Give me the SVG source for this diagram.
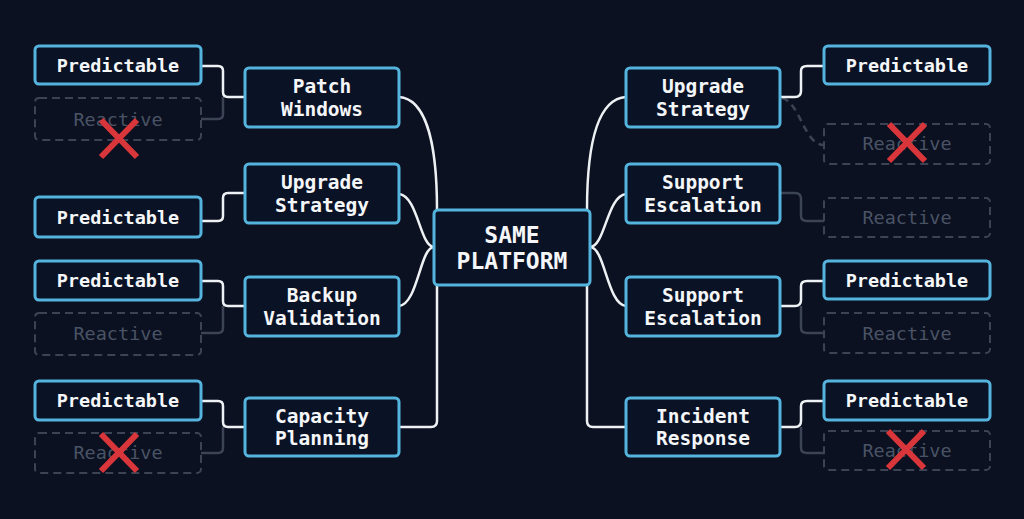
<svg xmlns="http://www.w3.org/2000/svg" width="1024" height="519" viewBox="0 0 1024 519">
<style>
.node rect{fill:#0a1226;stroke:#55b4de;stroke-width:3}
.ghost rect{fill:none;stroke:#3b4354;stroke-width:2;stroke-dasharray:8 5}
.t{font-family:"DejaVu Sans Mono","Liberation Mono",monospace;font-weight:bold;fill:#f4f6f8;text-anchor:middle}
.s{font-size:18.5px}
.m{font-size:19.5px}
.c{font-size:23px}
.g{font-family:"DejaVu Sans Mono","Liberation Mono",monospace;font-size:18.5px;fill:#4a5365;text-anchor:middle}
.w{fill:none;stroke:#eef1f4;stroke-width:2.5}
.d{fill:none;stroke:#3b4354;stroke-width:2.5}
.dd{fill:none;stroke:#3b4354;stroke-width:2.5;stroke-dasharray:7 5}
.x{stroke:#d8363a;stroke-width:6;stroke-linecap:butt}
</style>
<rect width="1024" height="519" fill="#0b1120"/>
<g id="connectors">
<!-- center links -->
<path class="w" d="M399,97 C428,99 437,150 437,210"/>
<path class="w" d="M399,194 C418,196 420,247 434,247"/>
<path class="w" d="M399,306 C418,304 420,247 434,247"/>
<path class="w" d="M399,427 H431 Q437,427 437,421 V285"/>
<path class="w" d="M587,210 C587,150 596,99 626,97"/>
<path class="w" d="M590,247 C605,247 607,196 626,194"/>
<path class="w" d="M590,247 C605,247 607,304 626,306"/>
<path class="w" d="M587,285 V421 Q587,427 593,427 H626"/>
<!-- left leaf links -->
<path class="d" d="M201,119 H218 Q223,119 223,114 V97"/>
<path class="w" d="M201,66 H218 Q223,66 223,71 V92 Q223,97 228,97 H245"/>
<path class="w" d="M201,221 H218 Q223,221 223,216 V198 Q223,193 228,193 H245"/>
<path class="d" d="M201,333 H218 Q223,333 223,328 V306"/>
<path class="w" d="M201,281 H218 Q223,281 223,286 V301 Q223,306 228,306 H245"/>
<path class="d" d="M201,453 H218 Q223,453 223,448 V427"/>
<path class="w" d="M201,401 H218 Q223,401 223,406 V422 Q223,427 228,427 H245"/>
<!-- right leaf links -->
<path class="dd" d="M782,98 C800,102 804,145 824,145"/>
<path class="w" d="M780,97 H795 Q801,97 801,91 V71 Q801,66 807,66 H824"/>
<path class="d" d="M780,193 H795 Q801,193 801,199 V216 Q801,221 807,221 H824"/>
<path class="d" d="M801,306 V328 Q801,333 807,333 H824"/>
<path class="w" d="M780,306 H795 Q801,306 801,300 V286 Q801,281 807,281 H824"/>
<path class="d" d="M801,427 V448 Q801,453 807,453 H824"/>
<path class="w" d="M780,427 H795 Q801,427 801,421 V406 Q801,401 807,401 H824"/>
</g>
<g id="center" class="node"><rect x="434" y="210" width="156" height="75" rx="4"/><text class="t c" x="512" y="243">SAME</text><text class="t c" x="512" y="269">PLATFORM</text></g>
<g id="patch-windows" class="node"><rect x="245" y="68" width="154" height="59" rx="4"/><text class="t m" x="322" y="93">Patch</text><text class="t m" x="322" y="116">Windows</text></g>
<g id="upgrade-left" class="node"><rect x="245" y="164" width="154" height="59" rx="4"/><text class="t m" x="322" y="189">Upgrade</text><text class="t m" x="322" y="212">Strategy</text></g>
<g id="backup" class="node"><rect x="245" y="277" width="154" height="59" rx="4"/><text class="t m" x="322" y="302">Backup</text><text class="t m" x="322" y="325">Validation</text></g>
<g id="capacity" class="node"><rect x="245" y="398" width="154" height="58" rx="4"/><text class="t m" x="322" y="423">Capacity</text><text class="t m" x="322" y="445">Planning</text></g>
<g id="upgrade-right" class="node"><rect x="626" y="68" width="154" height="59" rx="4"/><text class="t m" x="703" y="93">Upgrade</text><text class="t m" x="703" y="116">Strategy</text></g>
<g id="support-1" class="node"><rect x="626" y="164" width="154" height="59" rx="4"/><text class="t m" x="703" y="189">Support</text><text class="t m" x="703" y="212">Escalation</text></g>
<g id="support-2" class="node"><rect x="626" y="277" width="154" height="59" rx="4"/><text class="t m" x="703" y="302">Support</text><text class="t m" x="703" y="325">Escalation</text></g>
<g id="incident" class="node"><rect x="626" y="398" width="154" height="58" rx="4"/><text class="t m" x="703" y="423">Incident</text><text class="t m" x="703" y="445">Response</text></g>
<g id="l-pred-1" class="node"><rect x="35" y="46" width="166" height="38" rx="4"/><text class="t s" x="118" y="72">Predictable</text></g>
<g id="l-reac-1" class="ghost"><rect x="35" y="98" width="166" height="42" rx="4"/><text class="g" x="118" y="126">Reactive</text></g>
<g id="l-pred-2" class="node"><rect x="35" y="197" width="166" height="40" rx="4"/><text class="t s" x="118" y="224">Predictable</text></g>
<g id="l-pred-3" class="node"><rect x="35" y="261" width="166" height="39" rx="4"/><text class="t s" x="118" y="287">Predictable</text></g>
<g id="l-reac-3" class="ghost"><rect x="35" y="313" width="166" height="42" rx="4"/><text class="g" x="118" y="340">Reactive</text></g>
<g id="l-pred-4" class="node"><rect x="35" y="381" width="166" height="39" rx="4"/><text class="t s" x="118" y="407">Predictable</text></g>
<g id="l-reac-4" class="ghost"><rect x="35" y="433" width="166" height="40" rx="4"/><text class="g" x="118" y="459">Reactive</text></g>
<g id="r-pred-1" class="node"><rect x="824" y="46" width="166" height="38" rx="4"/><text class="t s" x="907" y="72">Predictable</text></g>
<g id="r-reac-1" class="ghost"><rect x="824" y="124" width="166" height="40" rx="4"/><text class="g" x="907" y="150">Reactive</text></g>
<g id="r-reac-2" class="ghost"><rect x="824" y="198" width="166" height="39" rx="4"/><text class="g" x="907" y="224">Reactive</text></g>
<g id="r-pred-3" class="node"><rect x="824" y="261" width="166" height="38" rx="4"/><text class="t s" x="907" y="287">Predictable</text></g>
<g id="r-reac-3" class="ghost"><rect x="824" y="313" width="166" height="40" rx="4"/><text class="g" x="907" y="340">Reactive</text></g>
<g id="r-pred-4" class="node"><rect x="824" y="381" width="166" height="39" rx="4"/><text class="t s" x="907" y="407">Predictable</text></g>
<g id="r-reac-4" class="ghost"><rect x="824" y="431" width="166" height="39" rx="4"/><text class="g" x="907" y="457">Reactive</text></g>
<g id="crosses">
<path class="x" d="M101,120 L137,157 M137,120 L101,157"/>
<path class="x" d="M101,434 L137,471 M137,434 L101,471"/>
<path class="x" d="M889,124 L925,161 M925,124 L889,161"/>
<path class="x" d="M888,431 L924,468 M924,431 L888,468"/>
</g>
</svg>
